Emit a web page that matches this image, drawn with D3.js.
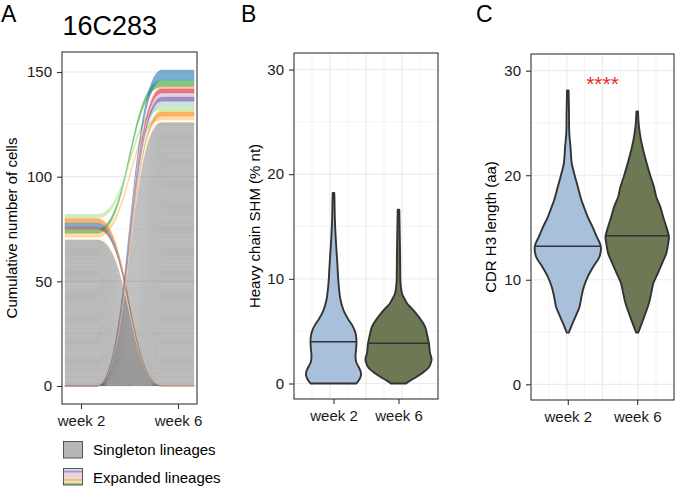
<!DOCTYPE html>
<html><head><meta charset="utf-8">
<script src="https://cdn.jsdelivr.net/npm/d3@7"></script>
<style>
body{margin:0;background:#fff}
svg{display:block}
text{font-family:"Liberation Sans",Arial,Helvetica,sans-serif}
</style>
</head><body>
<svg id="chart" width="675" height="487"></svg>
<script>
// ================= DATA =================
const timepoints = ["week 2", "week 6"];
// Panel A: alluvial of lineages
const singletonsWeek2 = 70;
const singletonsWeek6 = 126;
const lineageColors = ["#fffbd6","#fdbf6f","#33a02c","#e31a1c","#1f78b4","#ff7f00","#b2df8a",
                       "#fffbd6","#ff7f00","#b2df8a","#a6cee3","#6a3d9a","#cab2d6","#e31a1c","#fb9a99","#1f78b4"];
const lineageWeek2 = [1,2,2,1,2,2,2, 0,0,0,0,0,0,0,0,0];
const lineageWeek6 = [0,2,3,0,0,0,2, 1,2,1,2,2,2,2,1,5];
const stackWeek2 = [0,1,2,3,4,5,6];                    // bottom -> top above singletons
const stackWeek6 = [7,1,8,9,6,10,11,12,13,14,2,15];     // bottom -> top above singletons
const yTicksA = [0,50,100,150];
const yMinorA = [25,75,125];
const legendLabels = ["Singleton lineages","Expanded lineages"];
const legendStripeColors = ["#a6cee3","#6a3d9a","#cab2d6","#fb9a99","#a6cee3","#ff7f00","#fdbf6f","#33a02c"];

// Panel B: heavy chain SHM (% nt) violins  [value, relative density]
const shmWeek2 = [[0,23],[0.4,26],[0.8,27.5],[1.2,27],[1.6,25],[2.1,22.5],[2.6,22],[3.2,22.5],[4,23],[4.6,22.5],[5.1,21],[5.6,18.5],[6.1,15],[6.6,12],[7,10],[8,7],[9.6,5],[11.2,4],[12.7,3],[14.3,2],[15.9,1.3],[17.5,1],[18.2,0.8]];
const shmWeek6 = [[0,7.5],[0.3,12],[0.6,17.5],[1,24],[1.5,30],[2,32.5],[2.4,33],[2.9,31.5],[3.8,30.5],[4.8,28.3],[5.3,27],[5.7,25],[6.2,21.5],[6.7,17.5],[7.2,13],[7.6,9],[8.1,6],[8.6,3.5],[9.6,2],[11,1.7],[12.7,1.5],[14.5,1.2],[16.6,0.8]];
const shmMedians = [4.0, 3.84];
const yTicksB = [0,10,20,30];

// Panel C: CDR H3 length (aa) violins
const cdr3Week2 = [[4.94,1],[5.5,3.3],[6.5,7.8],[7.4,11.7],[8.4,13.7],[9.3,16],[10.3,20],[11.25,25.5],[12.2,31.7],[13.2,33],[14.1,29],[15.1,24.5],[16,20],[17,16],[17.6,13.7],[18.9,10],[20.2,6.3],[21.1,4],[22.7,2.7],[24,1.5],[26,1.2],[28.1,0.8]];
const cdr3Week6 = [[4.94,1],[5.8,4.5],[6.8,8.3],[7.75,11.7],[8.7,14],[9.7,16.3],[10.6,20.5],[11.6,25],[12.5,29],[13.5,31],[14.1,31.7],[15.1,29],[16,26],[17,23],[17.95,19],[18.9,16.7],[19.9,13.3],[20.8,10.5],[22.1,6.8],[23.4,3.7],[24.7,1.7],[26.1,0.8]];
const cdr3Medians = [13.2, 14.2];
const yTicksC = [0,10,20,30];
const significance = "****";

const violinFills = ["#a8c0da","#6c7954"];

// ================= DRAW =================
const svg = d3.select("#chart");
const FONT = 15;
const GRID = "#ebebeb";
const INK = "#333333";

function styleAxis(g){
  g.select(".domain").remove();
  g.selectAll(".tick line").attr("stroke", INK).attr("stroke-width", 1.1);
  g.selectAll(".tick text").attr("fill", "#1a1a1a").attr("font-size", FONT)
   .attr("font-family", "Liberation Sans, Arial, Helvetica, sans-serif");
}

// ---------- Panel A ----------
(function(){
  const L = 62, R = 197, T = 52, B = 404;
  const x = d3.scalePoint().domain(timepoints).range([L, R]).padding(0.196);
  const y = d3.scaleLinear().domain([0,150]).range([386, 72]);
  const half = x.step() / 6;
  const g = svg.append("g");

  g.selectAll(".gmin").data(yMinorA).join("line")
    .attr("x1", L).attr("x2", R).attr("y1", d=>y(d)).attr("y2", d=>y(d))
    .attr("stroke", GRID).attr("stroke-width", 0.6);
  g.selectAll(".gmaj").data(yTicksA).join("line")
    .attr("x1", L).attr("x2", R).attr("y1", d=>y(d)).attr("y2", d=>y(d))
    .attr("stroke", GRID).attr("stroke-width", 1.2);

  const xa = x(timepoints[0]) - half, xL = x(timepoints[0]) + half;
  const xR = x(timepoints[1]) - half, xb = x(timepoints[1]) + half;
  const xm1 = xL + (xR - xL) * 0.5, xm2 = xR - (xR - xL) * 0.5;
  function flowPath(a0, a1, b0, b1){
    const ya0 = y(a0), ya1 = y(a1), yb0 = y(b0), yb1 = y(b1);
    return `M${xa},${ya1}L${xL},${ya1}C${xm1},${ya1} ${xm2},${yb1} ${xR},${yb1}L${xb},${yb1}` +
           `L${xb},${yb0}L${xR},${yb0}C${xm2},${yb0} ${xm1},${ya0} ${xL},${ya0}L${xa},${ya0}Z`;
  }
  // singleton flows
  const singles = [];
  for (let i = 0; i < singletonsWeek2; i++) singles.push([i, i+1, 0, 0]);
  for (let j = 0; j < singletonsWeek6; j++) singles.push([0, 0, j, j+1]);
  g.append("g").selectAll("path").data(singles).join("path")
    .attr("d", d => flowPath(...d))
    .attr("fill", "#6f6f6f").attr("fill-opacity", 0.5);

  // expanded lineages
  const pos = lineageColors.map(() => ({a:[0,0], b:[0,0]}));
  let c = singletonsWeek2;
  stackWeek2.forEach(k => { pos[k].a = [c, c + lineageWeek2[k]]; c += lineageWeek2[k]; });
  c = singletonsWeek6;
  stackWeek6.forEach(k => { pos[k].b = [c, c + lineageWeek6[k]]; c += lineageWeek6[k]; });
  g.append("g").selectAll("path").data(lineageColors.map((col,k)=>({col, p:pos[k]}))).join("path")
    .attr("d", d => flowPath(d.p.a[0], d.p.a[1], d.p.b[0], d.p.b[1]))
    .attr("fill", d => d.col).attr("fill-opacity", 0.6)
    .attr("stroke", d => d.col).attr("stroke-width", 0.3).attr("stroke-opacity", 0.5);

  g.append("rect").attr("x", L).attr("y", T).attr("width", R-L).attr("height", B-T)
    .attr("fill", "none").attr("stroke", INK).attr("stroke-width", 1.1);

  const ay = g.append("g").attr("transform", `translate(${L},0)`)
    .call(d3.axisLeft(y).tickValues(yTicksA).tickSize(5).tickPadding(5));
  styleAxis(ay);
  const ax = g.append("g").attr("transform", `translate(0,${B})`)
    .call(d3.axisBottom(x).tickSize(5).tickPadding(6));
  styleAxis(ax);

  g.append("text").attr("x", 1).attr("y", 21.5).attr("font-size", 23).text("A");
  g.append("text").attr("x", 62.5).attr("y", 35).attr("font-size", 27).text("16C283");
  g.append("text").attr("transform", `translate(17,${(T+B)/2}) rotate(-90)`)
    .attr("text-anchor", "middle").attr("font-size", FONT).text("Cumulative number of cells");

  // legend
  const lg = g.append("g");
  lg.append("rect").attr("x", 63.5).attr("y", 441.5).attr("width", 19).attr("height", 16.5)
    .attr("fill", "#b7b7b7").attr("stroke", INK).attr("stroke-width", 0.8);
  const sh = 16.5 / legendStripeColors.length;
  lg.selectAll(".st").data(legendStripeColors).join("rect")
    .attr("x", 63.5).attr("y", (d,i)=> 468.5 + i*sh).attr("width", 19).attr("height", sh)
    .attr("fill", d=>d).attr("fill-opacity", 0.55);
  lg.append("rect").attr("x", 63.5).attr("y", 468.5).attr("width", 19).attr("height", 16.5)
    .attr("fill", "none").attr("stroke", INK).attr("stroke-width", 0.8);
  lg.selectAll(".lt").data(legendLabels).join("text")
    .attr("x", 93).attr("y", (d,i)=> 455 + i*27.5).attr("font-size", FONT).text(d=>d);
})();

// ---------- Violin panel helper ----------
function violinPanel(opt){
  const {L, R, T, B, y0px, y30px, pad, series, medians, ticks, title, titleX, letter, letterX} = opt;
  const g = svg.append("g");
  const x = d3.scalePoint().domain(timepoints).range([L, R]).padding(pad);
  const y = d3.scaleLinear().domain([0,30]).range([y0px, y30px]);
  const w = d3.scaleLinear().domain([0,33]).range([0,33]);
  const gx = d3.scaleLinear().domain([0,4]).range([L, R]);

  // grid
  const yMinor = [5,15,25];
  g.selectAll(".hmin").data(yMinor).join("line")
    .attr("x1", L).attr("x2", R).attr("y1", d=>y(d)).attr("y2", d=>y(d))
    .attr("stroke", GRID).attr("stroke-width", 0.6);
  g.selectAll(".vmin").data([0.5,1.5,2.5,3.5]).join("line")
    .attr("x1", d=>gx(d)).attr("x2", d=>gx(d)).attr("y1", T).attr("y2", B)
    .attr("stroke", GRID).attr("stroke-width", 0.6);
  g.selectAll(".hmaj").data(ticks).join("line")
    .attr("x1", L).attr("x2", R).attr("y1", d=>y(d)).attr("y2", d=>y(d))
    .attr("stroke", GRID).attr("stroke-width", 1.2);
  g.selectAll(".vmaj").data([1,2,3]).join("line")
    .attr("x1", d=>gx(d)).attr("x2", d=>gx(d)).attr("y1", T).attr("y2", B)
    .attr("stroke", GRID).attr("stroke-width", 1.2);

  series.forEach((prof, i) => {
    const cx = x(timepoints[i]);
    const area = d3.area().curve(d3.curveCatmullRom)
      .y(d => y(d[0])).x0(d => cx - w(d[1])).x1(d => cx + w(d[1]));
    g.append("path").attr("d", area(prof))
      .attr("fill", violinFills[i]).attr("stroke", INK).attr("stroke-width", 1.9)
      .attr("stroke-linejoin", "round");
    // median line
    const m = medians[i];
    let dens = prof[0][1];
    for (let k = 1; k < prof.length; k++) {
      if (prof[k][0] >= m) {
        const t = (m - prof[k-1][0]) / (prof[k][0] - prof[k-1][0]);
        dens = prof[k-1][1] + t * (prof[k][1] - prof[k-1][1]);
        break;
      }
    }
    g.append("line").attr("x1", cx - w(dens) + 0.5).attr("x2", cx + w(dens) - 0.5)
      .attr("y1", y(m)).attr("y2", y(m)).attr("stroke", INK).attr("stroke-width", 1.5);
  });

  g.append("rect").attr("x", L).attr("y", T).attr("width", R-L).attr("height", B-T)
    .attr("fill", "none").attr("stroke", INK).attr("stroke-width", 1.1);
  const ay = g.append("g").attr("transform", `translate(${L},0)`)
    .call(d3.axisLeft(y).tickValues(ticks).tickSize(5).tickPadding(5));
  styleAxis(ay);
  const ax = g.append("g").attr("transform", `translate(0,${B})`)
    .call(d3.axisBottom(x).tickSize(5).tickPadding(6));
  styleAxis(ax);
  g.append("text").attr("x", letterX).attr("y", 21.5).attr("font-size", 23).text(letter);
  g.append("text").attr("transform", `translate(${titleX},${(T+B)/2}) rotate(-90)`)
    .attr("text-anchor", "middle").attr("font-size", FONT).text(title);
  return {g, x, y};
}

violinPanel({L:294, R:438, T:53, B:399, y0px:383.5, y30px:69.5, pad:0.6077,
  series:[shmWeek2, shmWeek6], medians: shmMedians, ticks: yTicksB,
  title:"Heavy chain SHM (% nt)", titleX:260, letter:"B", letterX:241});

const pc = violinPanel({L:531, R:674, T:54, B:400, y0px:384.3, y30px:70.7, pad:0.53,
  series:[cdr3Week2, cdr3Week6], medians: cdr3Medians, ticks: yTicksC,
  title:"CDR H3 length (aa)", titleX:496, letter:"C", letterX:476});
pc.g.append("text").attr("x", (pc.x(timepoints[0]) + pc.x(timepoints[1]))/2).attr("y", 91)
  .attr("text-anchor", "middle").attr("font-size", 21).attr("fill", "#ec2b2b").text(significance);
</script>
</body></html>
